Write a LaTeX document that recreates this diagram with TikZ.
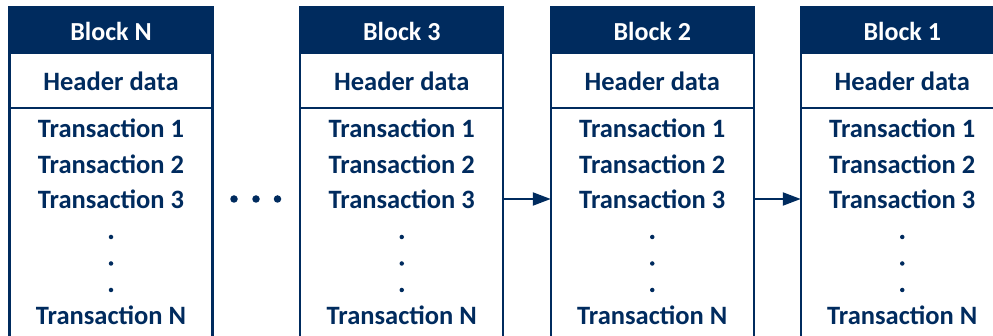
\documentclass[tikz,border=0pt]{standalone}
\usepackage{fontspec}
\setmainfont{Carlito}
\usetikzlibrary{arrows.meta}
\definecolor{navy}{RGB}{0,43,94}
\tikzset{
  blk/.style={draw=navy, line width=2.2pt, minimum width=203pt, inner sep=0pt, outer sep=0pt},
  titlebox/.style={blk, fill=navy, minimum height=46pt},
  headbox/.style={blk, fill=white, minimum height=55pt},
  bodybox/.style={blk, fill=white, minimum height=240pt},
  titletxt/.style={text=white, font=\fontsize{26}{30}\selectfont\bfseries, anchor=base, inner sep=0pt},
  celltxt/.style={text=navy, font=\fontsize{26.5}{30}\selectfont\bfseries, anchor=base, inner sep=0pt},
  vdot/.style={circle, fill=navy, minimum size=4.5pt, inner sep=0pt},
  hdot/.style={circle, fill=navy, minimum size=7.5pt, inner sep=0pt},
  link/.style={draw=navy, line width=2.2pt, -{Triangle[length=18pt,width=13pt]}}
}
\begin{document}
\begin{tikzpicture}[x=1pt,y=-1pt]
\useasboundingbox (0,0) rectangle (993,336);
\clip (0,0) rectangle (993,336);
\foreach \id/\cx/\name in {bN/111/N, b3/401.75/3, b2/652.25/2, b1/902.25/1}{
  \node[bodybox, anchor=north] (\id body) at (\cx,108) {};
  \node[headbox, anchor=north] (\id head) at (\cx,53) {};
  \node[titlebox, anchor=north] (\id title) at (\cx,7) {};
  \node[titletxt] (\id tt) at (\cx,41) {Block \name};
  \node[celltxt] (\id hd) at (\cx,91) {Header data};
  \node[celltxt] (\id t1) at (\cx,138) {Transaction 1};
  \node[celltxt] (\id t2) at (\cx,174) {Transaction 2};
  \node[celltxt] (\id t3) at (\cx,209) {Transaction 3};
  \node[vdot] (\id d1) at (\cx,237) {};
  \node[vdot] (\id d2) at (\cx,263.5) {};
  \node[vdot] (\id d3) at (\cx,290) {};
  \node[celltxt] (\id tn) at (\cx,325) {Transaction N};
}
\node[hdot] (g1) at (234,199) {};
\node[hdot] (g2) at (256,199) {};
\node[hdot] (g3) at (277.5,199) {};
\coordinate (a3) at (b3body.east |- 0,199);
\coordinate (a2) at (b2body.west |- 0,199);
\coordinate (c2) at (b2body.east |- 0,199);
\coordinate (c1) at (b1body.west |- 0,199);
\draw[link] (a3) -- (a2);
\draw[link] (c2) -- (c1);
\end{tikzpicture}
\end{document}
